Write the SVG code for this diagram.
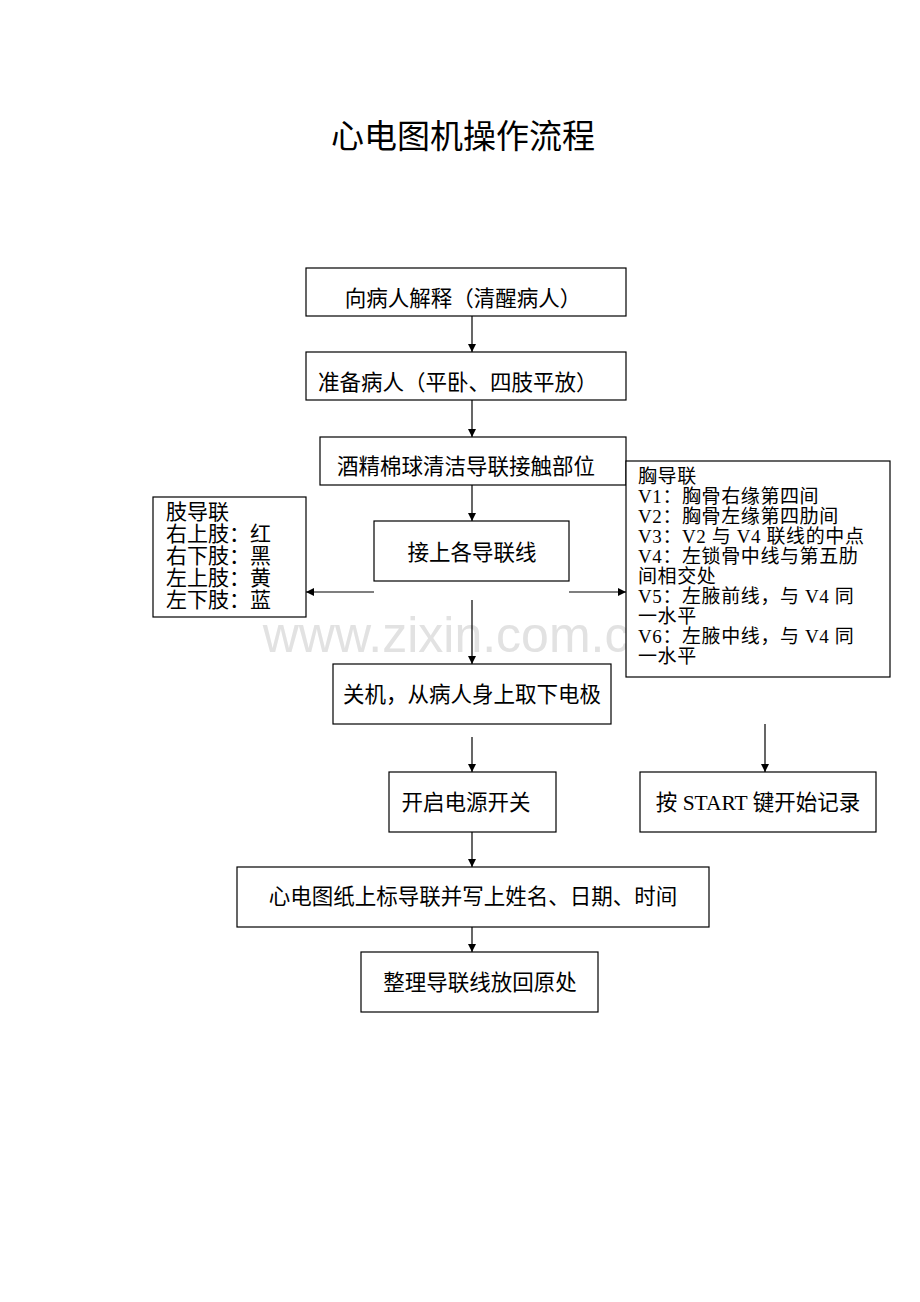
<svg xmlns="http://www.w3.org/2000/svg" width="920" height="1302" viewBox="0 0 920 1302">
<style>
text{font-family:"Liberation Serif","Noto Sans CJK SC",serif;font-size:21.5px;fill:#000}
.c{text-anchor:middle}
.s{font-size:21px}
.t{font-size:19px;letter-spacing:0.6px}
rect{fill:#fff;stroke:#000;stroke-width:1.2}
.ln{stroke:#000;stroke-width:1.2;fill:none;marker-end:url(#ah)}
</style>
<defs><marker id="ah" viewBox="0 0 10 10" refX="10" refY="5" markerWidth="8" markerHeight="8" markerUnits="userSpaceOnUse" orient="auto"><path d="M0,0L10,5L0,10z" fill="#000"/></marker></defs>
<rect x="0" y="0" width="920" height="1302" style="stroke:none"/>
<text x="463" y="148" class="c" style="font-size:33px">心电图机操作流程</text>
<text x="460" y="652" class="c" style="font-family:'Liberation Sans',sans-serif;font-size:50px;fill:#e2e2e2">www.zixin.com.cn</text>
<g id="connectors">
<line class="ln" x1="472" y1="316" x2="472" y2="352"/>
<line class="ln" x1="472" y1="400" x2="472" y2="437"/>
<line class="ln" x1="472" y1="485" x2="472" y2="521"/>
<line class="ln" x1="374" y1="592" x2="306" y2="592"/>
<line class="ln" x1="569" y1="592" x2="626" y2="592"/>
<line class="ln" x1="472" y1="600" x2="472" y2="664"/>
<line class="ln" x1="472" y1="737" x2="472" y2="772"/>
<line class="ln" x1="765" y1="724" x2="765" y2="772"/>
<line class="ln" x1="472" y1="832" x2="472" y2="867"/>
<line class="ln" x1="472" y1="927" x2="472" y2="952"/>
</g>
<g id="n1"><rect x="306" y="268" width="320" height="48"/><text x="463" y="306" class="c">向病人解释（清醒病人）</text></g>
<g id="n2"><rect x="306" y="352" width="320" height="48"/><text x="318" y="390">准备病人（平卧、四肢平放）</text></g>
<g id="n3"><rect x="320" y="437" width="306" height="48"/><text x="466" y="474" class="c">酒精棉球清洁导联接触部位</text></g>
<g id="n4"><rect x="374" y="521" width="195" height="60"/><text x="472" y="560" class="c">接上各导联线</text></g>
<g id="limb"><rect x="153" y="497" width="153" height="120"/>
<text x="166" y="519" class="s">肢导联</text><text x="166" y="541" class="s">右上肢：红</text><text x="166" y="563" class="s">右下肢：黑</text><text x="166" y="585" class="s">左上肢：黄</text><text x="166" y="607" class="s">左下肢：蓝</text></g>
<g id="chest"><rect x="626" y="461" width="264" height="216"/>
<text x="638" y="483" class="t">胸导联</text><text x="638" y="503" class="t">V1：胸骨右缘第四间</text><text x="638" y="523" class="t">V2：胸骨左缘第四肋间</text><text x="638" y="543" class="t">V3：V2 与 V4 联线的中点</text><text x="638" y="563" class="t">V4：左锁骨中线与第五肋</text><text x="638" y="583" class="t">间相交处</text><text x="638" y="603" class="t">V5：左腋前线，与 V4 同</text><text x="638" y="623" class="t">一水平</text><text x="638" y="643" class="t">V6：左腋中线，与 V4 同</text><text x="638" y="663" class="t">一水平</text></g>
<g id="n5"><rect x="333" y="664" width="278" height="60"/><text x="472" y="702" class="c">关机，从病人身上取下电极</text></g>
<g id="n6"><rect x="389" y="772" width="167" height="60"/><text x="466" y="810" class="c">开启电源开关</text></g>
<g id="n7"><rect x="640" y="772" width="236" height="60"/><text x="758" y="810" class="c">按 START 键开始记录</text></g>
<g id="n8"><rect x="237" y="867" width="472" height="60"/><text x="473" y="904" class="c">心电图纸上标导联并写上姓名、日期、时间</text></g>
<g id="n9"><rect x="361" y="952" width="237" height="60"/><text x="480" y="990" class="c">整理导联线放回原处</text></g>
</svg>
